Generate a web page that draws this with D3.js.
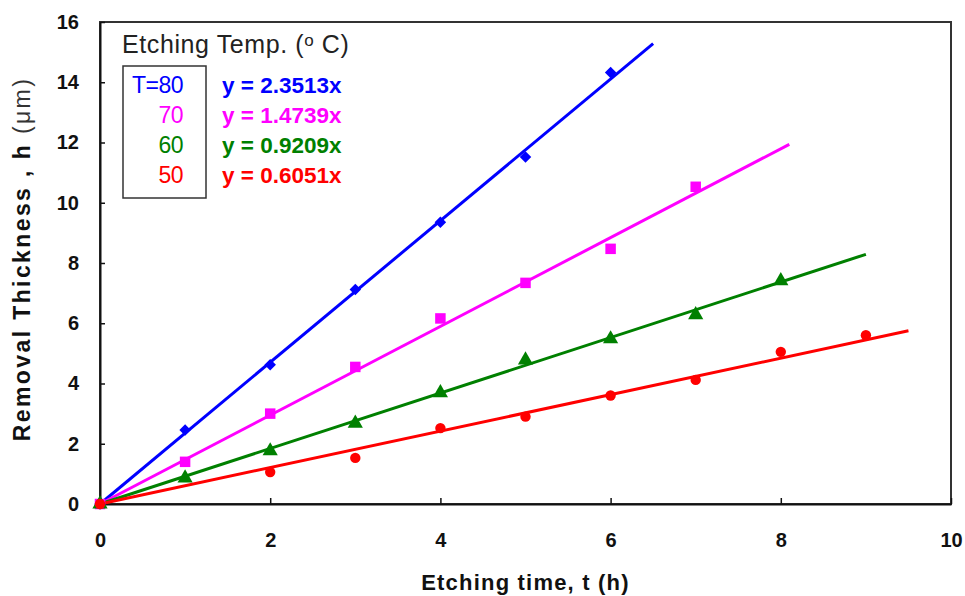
<!DOCTYPE html>
<html>
<head>
<meta charset="utf-8">
<script src="https://cdn.jsdelivr.net/npm/d3@7"></script>
<style>
  body { margin: 0; background: #fff; }
  svg text { font-family: "Liberation Sans", Arial, sans-serif; }
</style>
</head>
<body>
<svg id="chart" width="965" height="596"></svg>
<script>
// data
var times = [0, 1, 2, 3, 4, 5, 6, 7, 8, 9];
var temps = ["T=80", "70", "60", "50"];
var colors = ["#0000ff", "#ff00ff", "#008000", "#ff0000"];
var shapes = ["diamond", "square", "triangle", "circle"];
var slopes = [2.3513, 1.4739, 0.9209, 0.6051];
var fitEnds = [6.5, 8.1, 9.0, 9.5];
var t80 = [0, 2.46, 4.62, 7.12, 9.35, 11.52, 14.32];
var t70 = [0, 1.4, 3.0, 4.55, 6.16, 7.34, 8.47, 10.53];
var t60 = [0, 0.86, 1.76, 2.68, 3.69, 4.78, 5.48, 6.28, 7.41];
var t50 = [0, null, 1.06, 1.53, 2.52, 2.9, 3.6, 4.12, 5.05, 5.6];
var xTicks = [0, 2, 4, 6, 8, 10];
var yTicks = [0, 2, 4, 6, 8, 10, 12, 14, 16];

var series = [t80, t70, t60, t50];

var svg = d3.select("#chart"),
  margin = { top: 22, right: 14, bottom: 92, left: 100 },
  width = +svg.attr("width") - margin.left - margin.right,
  height = +svg.attr("height") - margin.top - margin.bottom;

var x = d3.scaleLinear().domain([0, 10]).range([0, width]),
  y = d3.scaleLinear().domain([0, 16]).range([height, 0]);

var g = svg.append("g")
  .attr("transform", "translate(" + margin.left + "," + margin.top + ")");

g.append("clipPath").attr("id", "plotclip")
  .append("rect").attr("x", -8).attr("y", 0).attr("width", width + 8).attr("height", height + 8);

// frame top/right
g.append("rect")
  .attr("width", width).attr("height", height)
  .attr("fill", "none").attr("stroke", "#333").attr("stroke-width", 2);

// axes
var xAxis = g.append("g")
  .attr("transform", "translate(0," + height + ")")
  .call(d3.axisBottom(x).tickValues(xTicks).tickSizeInner(-6).tickSizeOuter(0).tickPadding(29));
var yAxis = g.append("g")
  .call(d3.axisLeft(y).tickValues(yTicks).tickSizeInner(-5).tickSizeOuter(0).tickPadding(21));

[xAxis, yAxis].forEach(function(a) {
  a.select(".domain").attr("stroke", "#111").attr("stroke-width", 2);
  a.selectAll(".tick line").attr("stroke", "#111").attr("stroke-width", 1.5);
  a.selectAll(".tick text")
    .style("font-size", "20px")
    .style("font-weight", "bold")
    .attr("fill", "#111");
});

// fit lines
var plot = g.append("g").attr("clip-path", "url(#plotclip)");
slopes.forEach(function(k, i) {
  plot.append("line")
    .attr("x1", x(0)).attr("y1", y(0))
    .attr("x2", x(fitEnds[i])).attr("y2", y(k * fitEnds[i]))
    .attr("stroke", colors[i]).attr("stroke-width", 3);
});

// markers (diamond = square turned 45 degrees)
var symbolTypes = {
  diamond: d3.symbolSquare,
  square: d3.symbolSquare,
  triangle: d3.symbolTriangle,
  circle: d3.symbolCircle
};
var symbolSizes = { diamond: 66, square: 110, triangle: 100, circle: 85 };
series.forEach(function(vals, i) {
  var pts = [];
  vals.forEach(function(v, j) { if (v != null) pts.push({ t: times[j], v: v }); });
  var rot = shapes[i] == "diamond" ? " rotate(45)" : "";
  plot.selectAll(".pt" + i)
    .data(pts)
    .enter()
    .append("path")
    .attr("class", "pt" + i)
    .attr("transform", function(d) { return "translate(" + x(d.t) + "," + y(d.v) + ")" + rot; })
    .attr("d", d3.symbol().type(symbolTypes[shapes[i]]).size(symbolSizes[shapes[i]]))
    .attr("fill", colors[i]);
});

// legend
var leg = g.append("g");
var title = leg.append("text")
  .attr("x", 22).attr("y", 31)
  .style("font-size", "25px")
  .style("letter-spacing", "0.6px")
  .attr("fill", "#222");
title.append("tspan").text("Etching Temp. (");
title.append("tspan").attr("dy", -7).style("font-size", "17px").text("o");
title.append("tspan").attr("dy", 7).text(" C)");

leg.append("rect")
  .attr("x", 23).attr("y", 44).attr("width", 83).attr("height", 132)
  .attr("fill", "none").attr("stroke", "#333").attr("stroke-width", 1.5);

temps.forEach(function(tp, i) {
  leg.append("text")
    .attr("x", 83).attr("y", 71 + i * 30)
    .attr("text-anchor", "end")
    .style("font-size", "23px")
    .style("letter-spacing", "-0.5px")
    .attr("fill", colors[i])
    .text(tp);
  leg.append("text")
    .attr("x", 122).attr("y", 71 + i * 30)
    .style("font-size", "22.5px")
    .style("font-weight", "bold")
    .attr("fill", colors[i])
    .text("y = " + slopes[i].toFixed(4) + "x");
});

// axis titles
svg.append("text")
  .attr("x", margin.left + width / 2).attr("y", 590)
  .attr("text-anchor", "middle")
  .style("font-size", "22px").style("font-weight", "bold")
  .style("letter-spacing", "1.2px")
  .attr("fill", "#111")
  .text("Etching time, t (h)");

var yl = svg.append("text")
  .attr("transform", "translate(30," + (margin.top + height / 2 - 4) + ") rotate(-90)")
  .attr("text-anchor", "middle")
  .style("font-size", "23px").style("font-weight", "bold")
  .style("letter-spacing", "2.4px")
  .attr("fill", "#111");
yl.append("tspan").text("Removal Thickness , h ");
yl.append("tspan").style("font-weight", "normal").attr("fill", "#333").text("(\u03bcm)");
</script>
</body>
</html>
